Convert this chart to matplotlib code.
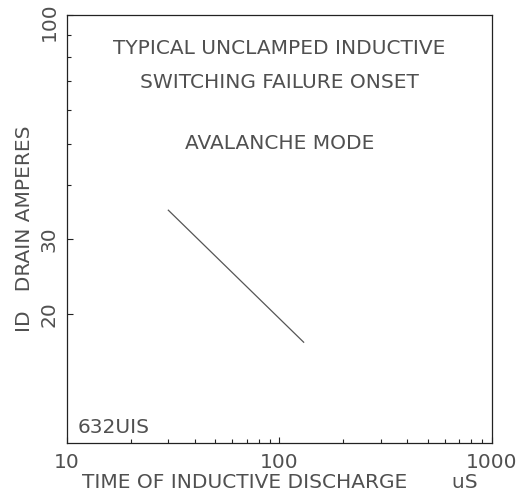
import matplotlib
matplotlib.use("Agg")
import matplotlib.pyplot as plt
from matplotlib.ticker import FixedLocator, NullFormatter
from matplotlib.transforms import ScaledTranslation

# Data
time_us = [30, 130]
drain_amps = [35, 17.2]

x_major = [10, 100, 1000]
x_minor = [20, 30, 40, 50, 60, 70, 80, 90, 200, 300, 400, 500, 600, 700, 800, 900]
y_labeled = [20, 30, 100]
y_minor = [20, 30, 40, 50, 60, 70, 80, 90]

title_lines = ["TYPICAL UNCLAMPED INDUCTIVE", "SWITCHING FAILURE ONSET", "AVALANCHE MODE"]
title_y = [0.921, 0.843, 0.701]

text_color = "#505050"
fs = 14.5
plt.rcParams["font.family"] = ["DejaVu Sans"]

fig = plt.figure(figsize=(5.23, 5.01), dpi=100)
ax = fig.add_axes([0.128, 0.1158, 0.8126, 0.854])
ax.set_xscale("log")
ax.set_yscale("log")
ax.set_xlim(10, 1000)
ax.set_ylim(10, 100)

ax.plot(time_us, drain_amps, color="#555555", lw=0.9)

ax.xaxis.set_major_locator(FixedLocator(x_major))
ax.xaxis.set_minor_locator(FixedLocator(x_minor))
ax.xaxis.set_minor_formatter(NullFormatter())
ax.set_xticklabels([str(v) for v in x_major])
ax.yaxis.set_major_locator(FixedLocator(y_labeled))
ax.yaxis.set_minor_locator(FixedLocator(y_minor))
ax.yaxis.set_minor_formatter(NullFormatter())
ax.set_yticklabels([str(v) for v in y_labeled], rotation=90, va="center")

ax.tick_params(which="both", direction="in", top=False, right=False,
               labelsize=fs, labelcolor=text_color, color="#222222", width=0.8)
ax.tick_params(which="major", length=4)
ax.tick_params(which="minor", length=3)
ax.tick_params(axis="x", pad=7)
ax.tick_params(axis="y", pad=6)

# nudge the top "100" label down so it stays inside the figure
top_lbl = ax.get_yticklabels()[-1]
top_lbl.set_transform(top_lbl.get_transform() + ScaledTranslation(0, -5 / 72, fig.dpi_scale_trans))

for s in ax.spines.values():
    s.set_linewidth(0.9)
    s.set_color("#222222")

ax.set_xlabel("TIME OF INDUCTIVE DISCHARGE       uS", fontsize=fs, color=text_color, labelpad=1)
ax.set_ylabel("ID   DRAIN AMPERES", fontsize=fs, color=text_color, labelpad=4)

for line, yy in zip(title_lines, title_y):
    ax.text(0.5, yy, line, transform=ax.transAxes, ha="center", va="center",
            fontsize=fs, color=text_color)
ax.text(0.026, 0.014, "632UIS", transform=ax.transAxes, ha="left", va="bottom",
        fontsize=fs, color=text_color)

fig.savefig("out.png", dpi=100)
